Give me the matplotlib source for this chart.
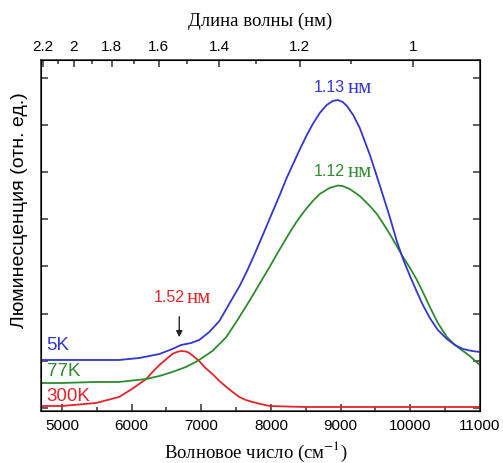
import numpy as np
import matplotlib
matplotlib.use('Agg')
import matplotlib.pyplot as plt

plt.rcParams['mathtext.fontset'] = 'stix'

# wavenumber (cm^-1) and intensity (arb. units)
nu_5k = [4700, 5000, 5500, 5820, 6110, 6400, 6585, 6710, 6855, 6970, 7115, 7260, 7400,
         7550, 7650, 7760, 7865, 7980, 8120, 8225, 8410, 8500, 8600, 8700, 8800, 8885,
         8960, 9030, 9090, 9180, 9275, 9420, 9560, 9705, 9805, 9895, 9995, 10095, 10180,
         10280, 10395, 10525, 10640, 10755, 10885, 11000]
i_5k = [51, 51, 51, 51, 53, 57, 62, 66, 68, 71, 79, 90, 107,
        125, 139, 156, 173, 192, 215, 233, 261, 274, 287, 298, 306, 310,
        311, 309, 305, 296, 283, 256, 226, 194, 170, 152, 135, 119, 106,
        93, 81, 72, 66, 62, 60, 59]

nu_77k = [4700, 5000, 5490, 5820, 6210, 6400, 6585, 6780, 6945, 7160, 7360, 7520, 7690,
          7835, 7980, 8120, 8265, 8365, 8480, 8600, 8700, 8840, 8960, 9030, 9130, 9275,
          9420, 9520, 9605, 9705, 9805, 9895, 9995, 10095, 10180, 10280, 10395, 10525,
          10640, 10755, 10855, 10930, 11000]
i_77k = [28, 28, 29, 29, 32, 35, 39, 44, 50, 60, 74, 91, 110,
         127, 144, 161, 178, 189, 200, 210, 217, 223, 225.5, 225, 222, 215,
         205, 197, 188, 177, 165, 154, 143, 131, 119, 104, 88, 74,
         66, 60, 55, 50, 46]

nu_300k = [4700, 5000, 5490, 5820, 6005, 6210, 6300, 6400, 6500, 6585, 6650, 6710, 6780,
           6830, 6900, 6970, 7060, 7160, 7260, 7360, 7450, 7545, 7640, 7735, 7850, 7980,
           8200, 8500, 9000, 9500, 10000, 10500, 11000]
i_300k = [5, 5, 8, 14, 22, 32, 39, 46, 52, 57, 59, 60, 59.5,
          58, 54, 50, 43, 37, 30, 24, 19, 14, 11, 9, 7, 5,
          4.5, 4, 4, 4, 4, 4, 4]

# top axis: wavelength labels
wl_major = [2.2, 2, 1.8, 1.6, 1.4, 1.2, 1]
wl_minor = [2.1, 1.9, 1.7, 1.5, 1.3, 1.1]

c_blue = '#3535d0'
c_green = '#2e8b2e'
c_red = '#e3242b'
sans = 'Liberation Sans'
serif = 'Liberation Serif'

fig = plt.figure(figsize=(5.03, 4.64), dpi=100)
ax = fig.add_axes([0.0815, 0.1121, 0.8728, 0.7564])

ax.plot(nu_300k, i_300k, color=c_red, lw=1.3)
ax.plot(nu_77k, i_77k, color=c_green, lw=1.3)
ax.plot(nu_5k, i_5k, color=c_blue, lw=1.3)

ax.set_xlim(4700, 11000)
ax.set_ylim(0, 351)

ax.set_xticks(np.arange(5000, 11001, 1000))
ax.set_xticks(np.arange(5500, 11000, 1000), minor=True)
ax.set_yticks(np.arange(3, 351, 47.2))
ax.set_yticklabels([])
ax.tick_params(which='both', direction='in', right=True, top=False, width=1.1, color='#333333')
ax.tick_params(which='major', length=5, labelsize=11, pad=5)
ax.tick_params(which='minor', length=3)
ax.tick_params(axis='y', length=5)
for s in ax.spines.values():
    s.set_linewidth(1.2)
    s.set_color('#333333')

# wavelength axis, positions fitted to the picture
ax2 = ax.twiny()
ax2.set_xlim(ax.get_xlim())
ax2.set_xticks([9726 / w + 310 for w in wl_major])
ax2.set_xticklabels([('%g' % w) for w in wl_major])
ax2.set_xticks([9726 / w + 310 for w in wl_minor], minor=True)
ax2.tick_params(which='both', direction='in', width=1.1, color='#333333')
ax2.tick_params(which='major', length=5, labelsize=11, pad=5)
ax2.tick_params(which='minor', length=3)

for lbl in ax.get_xticklabels() + ax2.get_xticklabels():
    lbl.set_family(sans)

ax.set_xlabel('Волновое число (см$^{-1}$)', family=serif, fontsize=13.5)
ax.xaxis.set_label_coords(0.49, -0.08)
ax2.set_xlabel('Длина волны (нм)', family=serif, fontsize=13.5, labelpad=10)
ax.set_ylabel('Люминесценция (отн. ед.)', family=sans, fontsize=14)
ax.yaxis.set_label_coords(-0.03, 0.575)

# curve labels
ax.text(4780, 66, '5K', color=c_blue, fontsize=13.5, family=sans, va='center')
ax.text(4780, 40, '77K', color=c_green, fontsize=13.5, family=sans, va='center')
ax.text(4780, 15, '300K', color=c_red, fontsize=13.5, family=sans, va='center')

peaks = [(9058, 325, '1.13', c_blue), (9058, 241, '1.12', c_green), (6756, 114, '1.52', c_red)]
for px, py, lab, col in peaks:
    ax.text(px, py, lab, color=col, fontsize=11.5, family=sans, ha='right', va='center')
    ax.text(px + 40, py - 1, 'нм', color=col, fontsize=15, family=serif, ha='left', va='center')

ax.annotate('', xy=(6684, 71), xytext=(6684, 97),
            arrowprops=dict(arrowstyle='-|>', color='#222222', lw=1, mutation_scale=9))

fig.savefig('out.png', dpi=100)
